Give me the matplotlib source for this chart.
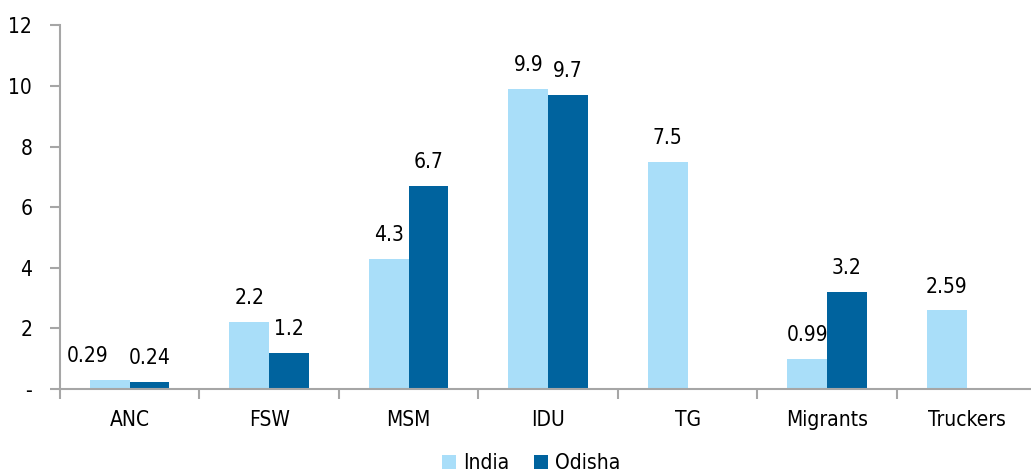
import numpy as np
import matplotlib.pyplot as plt

categories = ["ANC", "FSW", "MSM", "IDU", "TG", "Migrants", "Truckers"]
india = [0.29, 2.2, 4.3, 9.9, 7.5, 0.99, 2.59]
odisha = [0.24, 1.2, 6.7, 9.7, None, 3.2, None]
india_labels = ["0.29", "2.2", "4.3", "9.9", "7.5", "0.99", "2.59"]
odisha_labels = ["0.24", "1.2", "6.7", "9.7", None, "3.2", None]
yticks = [0, 2, 4, 6, 8, 10, 12]
ytick_labels = ["-", "2", "4", "6", "8", "10", "12"]

INDIA_COLOR = "#A9DEF9"
ODISHA_COLOR = "#00639E"
AXIS_COLOR = "#A6A6A6"

plt.rcParams["font.family"] = ["DejaVu Sans"]
plt.rcParams["font.stretch"] = "condensed"
plt.rcParams["font.size"] = 15

fig = plt.figure(figsize=(10.31, 4.73), dpi=100)
ax = fig.add_axes([0.0582, 0.1776, 0.947, 0.769])

x = np.arange(len(categories))
w = 0.285

ax.bar(x - w / 2, india, width=w, color=INDIA_COLOR, label="India")
ox = [xi + w / 2 for xi, v in zip(x, odisha) if v is not None]
ov = [v for v in odisha if v is not None]
ax.bar(ox, ov, width=w, color=ODISHA_COLOR, label="Odisha")

for i, (xi, v, lab) in enumerate(zip(x, india, india_labels)):
    # first label is nudged left in the original so it doesn't collide
    dx = -16 if i == 0 else 0
    ax.annotate(lab, (xi - w / 2, v), xytext=(dx, 10), textcoords="offset points",
                ha="center", va="bottom")
for xi, v, lab in zip(x, odisha, odisha_labels):
    if v is not None:
        ax.annotate(lab, (xi + w / 2, v), xytext=(0, 10), textcoords="offset points",
                    ha="center", va="bottom")

ax.set_xlim(-0.5, len(categories) - 0.5)
ax.set_ylim(0, 12)
ax.set_yticks(yticks)
ax.set_yticklabels(ytick_labels)

ax.set_xticks(np.arange(len(categories) + 1) - 0.5)
ax.set_xticklabels([])
ax.set_xticks(x, minor=True)
ax.set_xticklabels(categories, minor=True)
ax.tick_params(axis="x", which="minor", length=0, pad=15)
ax.tick_params(axis="x", which="major", length=7, color=AXIS_COLOR, width=1.5)
ax.tick_params(axis="y", length=7, color=AXIS_COLOR, width=1.5, pad=13)

for s in ["top", "right"]:
    ax.spines[s].set_visible(False)
for s in ["left", "bottom"]:
    ax.spines[s].set_color(AXIS_COLOR)
    ax.spines[s].set_linewidth(1.5)

fig.legend(loc="lower center", bbox_to_anchor=(0.515, -0.04), ncol=2, frameon=False,
           handlelength=0.7, handleheight=0.7, handletextpad=0.3, columnspacing=1.2)

fig.savefig("out.png", dpi=100)
